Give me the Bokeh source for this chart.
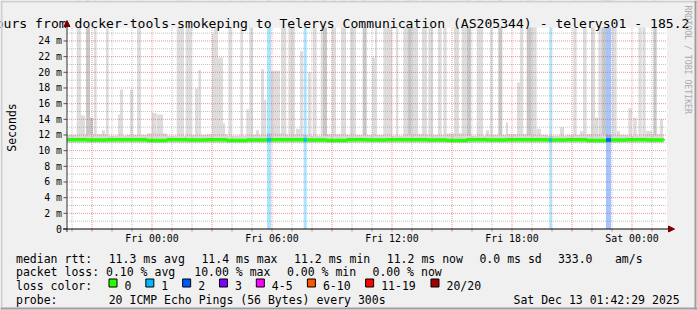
import math
import re
import pandas as pd
from bokeh.plotting import figure
from bokeh.models import Range1d, Arrow, NormalHead
from bokeh.core.properties import value
from bokeh.embed import file_html
from bokeh.resources import INLINE

# ---------------- data ----------------
view_start = "2025-12-11 19:45"
view_end = "2025-12-13 01:45"
y_max_ms = 25.72

# smoke columns (ping spread above the median); 30 = beyond the top of the graph
smoke_start = [
    "2025-12-11 20:14", "2025-12-11 20:27", "2025-12-11 20:42", "2025-12-11 20:54", "2025-12-11 21:06",
    "2025-12-11 21:30", "2025-12-11 21:42", "2025-12-11 22:18", "2025-12-11 22:24", "2025-12-11 22:54",
    "2025-12-11 23:15", "2025-12-11 23:59", "2025-12-12 00:15", "2025-12-12 01:14", "2025-12-12 01:41",
    "2025-12-12 02:09", "2025-12-12 02:19", "2025-12-12 03:00", "2025-12-12 03:06", "2025-12-12 03:18",
    "2025-12-12 03:33", "2025-12-12 03:49", "2025-12-12 04:25", "2025-12-12 04:43", "2025-12-12 04:52",
    "2025-12-12 05:12", "2025-12-12 05:27", "2025-12-12 05:36", "2025-12-12 05:57", "2025-12-12 06:27",
    "2025-12-12 06:49", "2025-12-12 07:12", "2025-12-12 07:24", "2025-12-12 07:48", "2025-12-12 08:03",
    "2025-12-12 08:26", "2025-12-12 08:33", "2025-12-12 08:59", "2025-12-12 09:27", "2025-12-12 09:54",
    "2025-12-12 10:32", "2025-12-12 11:00", "2025-12-12 11:09", "2025-12-12 11:34", "2025-12-12 12:12",
    "2025-12-12 12:34", "2025-12-12 12:48", "2025-12-12 12:59", "2025-12-12 13:30", "2025-12-12 13:49",
    "2025-12-12 14:18", "2025-12-12 14:34", "2025-12-12 15:06", "2025-12-12 15:29", "2025-12-12 15:44",
    "2025-12-12 16:14", "2025-12-12 16:42", "2025-12-12 16:54", "2025-12-12 17:19", "2025-12-12 17:42",
    "2025-12-12 18:15", "2025-12-12 18:24", "2025-12-12 18:44", "2025-12-12 18:57", "2025-12-12 19:14",
    "2025-12-12 20:24", "2025-12-12 21:04", "2025-12-12 21:24", "2025-12-12 21:33", "2025-12-12 21:57",
    "2025-12-12 22:09", "2025-12-12 22:19", "2025-12-12 22:29", "2025-12-12 22:59", "2025-12-12 23:15",
    "2025-12-12 23:49", "2025-12-13 00:04", "2025-12-13 00:19", "2025-12-13 00:31", "2025-12-13 00:42",
    "2025-12-13 01:04", "2025-12-13 01:24",
]
smoke_end = [
    "2025-12-11 20:27", "2025-12-11 20:39", "2025-12-11 20:54", "2025-12-11 21:03", "2025-12-11 21:14",
    "2025-12-11 21:39", "2025-12-11 21:50", "2025-12-11 22:24", "2025-12-11 22:33", "2025-12-11 23:04",
    "2025-12-11 23:27", "2025-12-12 00:14", "2025-12-12 00:33", "2025-12-12 01:36", "2025-12-12 01:59",
    "2025-12-12 02:19", "2025-12-12 02:27", "2025-12-12 03:06", "2025-12-12 03:18", "2025-12-12 03:33",
    "2025-12-12 03:39", "2025-12-12 03:59", "2025-12-12 04:33", "2025-12-12 04:52", "2025-12-12 05:03",
    "2025-12-12 05:21", "2025-12-12 05:36", "2025-12-12 05:43", "2025-12-12 06:24", "2025-12-12 06:43",
    "2025-12-12 07:09", "2025-12-12 07:24", "2025-12-12 07:33", "2025-12-12 07:57", "2025-12-12 08:14",
    "2025-12-12 08:33", "2025-12-12 08:45", "2025-12-12 09:12", "2025-12-12 09:42", "2025-12-12 10:12",
    "2025-12-12 10:44", "2025-12-12 11:09", "2025-12-12 11:15", "2025-12-12 12:00", "2025-12-12 12:19",
    "2025-12-12 12:48", "2025-12-12 12:59", "2025-12-12 13:18", "2025-12-12 13:45", "2025-12-12 14:03",
    "2025-12-12 14:29", "2025-12-12 14:44", "2025-12-12 15:21", "2025-12-12 15:44", "2025-12-12 15:57",
    "2025-12-12 16:33", "2025-12-12 16:51", "2025-12-12 17:02", "2025-12-12 17:31", "2025-12-12 17:48",
    "2025-12-12 18:24", "2025-12-12 18:34", "2025-12-12 18:57", "2025-12-12 19:14", "2025-12-12 19:27",
    "2025-12-12 20:36", "2025-12-12 21:14", "2025-12-12 21:33", "2025-12-12 21:44", "2025-12-12 22:09",
    "2025-12-12 22:18", "2025-12-12 22:29", "2025-12-12 22:42", "2025-12-12 23:14", "2025-12-12 23:24",
    "2025-12-12 23:59", "2025-12-13 00:14", "2025-12-13 00:29", "2025-12-13 00:41", "2025-12-13 01:00",
    "2025-12-13 01:14", "2025-12-13 01:33",
]
smoke_top_ms = [
    30, 14.5, 30, 14.2, 30, 12.6, 30, 14.6, 17.8, 17.8,
    30, 14.8, 14.6, 30, 30, 17.9, 20.3, 24.9, 30, 21.9,
    13.5, 30, 30, 15.3, 30, 12.6, 20.4, 16.5, 20.2, 30,
    30, 12.8, 22.7, 20.0, 30, 30, 30, 30, 30, 30,
    30, 21.9, 30, 30, 30, 30, 30, 30, 30, 30,
    30, 30, 30, 30, 30, 30, 12.6, 30, 30, 13.6,
    18.7, 30, 30, 30, 12.8, 13.0, 30, 12.5, 30, 30,
    14.2, 30, 30, 30, 12.5, 15.4, 14.2, 30, 30, 12.5,
    30, 14.0,
]
smoke_shade = [
    "L", "L", "D", "D", "L", "L", "L", "L", "L", "L",
    "L", "L", "L", "L", "L", "L", "L", "L", "L", "L",
    "L", "L", "L", "L", "L", "L", "L", "L", "L", "L",
    "L", "L", "L", "L", "L", "L", "D", "L", "L", "L",
    "D", "L", "L", "L", "L", "L", "D", "L", "L", "L",
    "L", "L", "L", "L", "D", "L", "L", "L", "D", "L",
    "L", "L", "D", "L", "L", "L", "L", "L", "L", "L",
    "L", "L", "D", "L", "L", "L", "L", "L", "L", "L",
    "D", "L",
]
smoke_floor_ms = 11.0

# thin smoke fringe just above the median
fringe_time = [
    "2025-12-11 19:45", "2025-12-11 20:45", "2025-12-11 21:45", "2025-12-11 22:45", "2025-12-11 23:45",
    "2025-12-12 00:45", "2025-12-12 01:45", "2025-12-12 02:45", "2025-12-12 03:45", "2025-12-12 04:45",
    "2025-12-12 05:45", "2025-12-12 06:45", "2025-12-12 07:45", "2025-12-12 08:45", "2025-12-12 09:45",
    "2025-12-12 10:45", "2025-12-12 11:45", "2025-12-12 12:45", "2025-12-12 13:45", "2025-12-12 14:45",
    "2025-12-12 15:45", "2025-12-12 16:45", "2025-12-12 17:45", "2025-12-12 18:45", "2025-12-12 19:45",
    "2025-12-12 20:45", "2025-12-12 21:45", "2025-12-12 22:45", "2025-12-12 23:45", "2025-12-13 00:45",
    "2025-12-13 01:35",
]
fringe_top_ms = [
    12.0, 12.1, 11.9, 12.0, 12.2, 11.9, 12.0, 12.1, 11.9, 12.0,
    12.2, 12.0, 11.9, 12.1, 12.0, 12.0, 11.9, 12.1, 12.0, 12.2,
    11.9, 12.0, 12.1, 12.0, 11.9, 12.0, 12.1, 12.0, 11.9, 12.1,
    12.0,
]

# median rtt
median_time = fringe_time
median_ms = [
    11.40, 11.35, 11.40, 11.40, 11.30, 11.40, 11.35, 11.40, 11.30, 11.35,
    11.40, 11.40, 11.35, 11.30, 11.40, 11.35, 11.40, 11.40, 11.35, 11.30,
    11.40, 11.35, 11.40, 11.40, 11.35, 11.40, 11.30, 11.35, 11.40, 11.35,
    11.30,
]

# packet loss periods
loss_start = ["2025-12-12 05:45", "2025-12-12 07:35", "2025-12-12 19:52", "2025-12-12 22:42"]
loss_end = ["2025-12-12 05:57", "2025-12-12 07:44", "2025-12-12 19:59", "2025-12-12 22:57"]
loss_pings = [1, 1, 1, 2]
loss_median_ms = [11.35, 11.35, 11.35, 11.35]

loss_labels = ["0", "1", "2", "3", "4-5", "6-10", "11-19", "20/20"]
loss_colors = ["#26ff00", "#00b8ff", "#0059ff", "#7e00ff", "#ff00ff", "#ff5500", "#ff0000", "#a10000"]

x_label_ticks = ["2025-12-12 00:00", "2025-12-12 06:00", "2025-12-12 12:00",
                 "2025-12-12 18:00", "2025-12-13 00:00"]
y_ticks = [0, 2, 4, 6, 8, 10, 12, 14, 16, 18, 20, 22, 24]
y_tick_labels = ["0", "2 m", "4 m", "6 m", "8 m", "10 m", "12 m", "14 m",
                 "16 m", "18 m", "20 m", "22 m", "24 m"]

title_text = "ours from docker-tools-smokeping to Telerys Communication (AS205344) - telerys01 - 185.2"
legend_lines = [
    "median rtt:  11.3 ms avg  11.4 ms max  11.2 ms min  11.2 ms now  0.0 ms sd  333.0   am/s",
    "packet loss: 0.10 % avg  10.00 % max  0.00 % min  0.00 % now",
    "loss color:",
    "probe:       20 ICMP Echo Pings (56 Bytes) every 300s",
]
stamp_text = "Sat Dec 13 01:42:29 2025"


def ms(s):
    return pd.Timestamp(s).value / 1e6


def msl(lst):
    return [ms(s) for s in lst]


# ---------------- layout (canvas pixels) ----------------
W, H = 697, 310
PLOT_X0 = 66.5          # pixel of view_start
PLOT_Y0 = 228.5         # pixel of 0 ms
PLOT_TOP = 27
PX_PER_MS = (PLOT_Y0 - PLOT_TOP) / y_max_ms
MS_PER_PX = 180000.0    # 30 h over 600 px
MONO = "DejaVu Sans Mono"
BG = "#F0F0F0"

t0 = ms(view_start)
t1 = ms(view_end)
p = figure(width=W, height=H, x_range=Range1d(0, W), y_range=Range1d(H, 0),
           x_axis_location=None, y_axis_location=None,
           min_border=0, min_border_left=0, min_border_right=0,
           min_border_top=0, min_border_bottom=0,
           output_backend="svg", toolbar_location=None,
           background_fill_color=BG, border_fill_color=BG, outline_line_color=None)
for g in p.grid:
    g.visible = False

p.extra_x_ranges = {"time": Range1d(t0 - PLOT_X0 * MS_PER_PX, t0 + (W - PLOT_X0) * MS_PER_PX)}
p.extra_y_ranges = {"ms": Range1d(-(H - PLOT_Y0) / PX_PER_MS, PLOT_Y0 / PX_PER_MS)}
D = dict(x_range_name="time", y_range_name="ms")

# plot canvas
p.quad(left=[t0], right=[t1], bottom=[0], top=[y_max_ms],
       fill_color="white", line_color=None, **D)

shade_color = {"L": "#dddddd", "D": "#c8c8c8"}
p.quad(left=msl(smoke_start), right=msl(smoke_end), bottom=smoke_floor_ms, top=smoke_top_ms,
       fill_color=[shade_color[s] for s in smoke_shade], line_color=None, **D)
p.varea_step(x=msl(fringe_time), y1=smoke_floor_ms, y2=fringe_top_ms,
             step_mode="after", fill_color="#d8d8d8", **D)
p.quad(left=msl(loss_start), right=msl(loss_end), bottom=0, top=30,
       fill_color=[loss_colors[n] for n in loss_pings], fill_alpha=0.35, line_color=None, **D)
p.step(x=msl(median_time), y=median_ms, mode="after",
       line_color=loss_colors[0], line_width=3.5, **D)
p.segment(x0=msl(loss_start), x1=msl(loss_end), y0=loss_median_ms, y1=loss_median_ms,
          line_color=[loss_colors[n] for n in loss_pings], line_width=3.5, **D)

# grid lines (drawn on top, rrdtool style)
x_major = msl(pd.date_range("2025-12-11 21:00", "2025-12-13 00:00", freq="3h"))
x_minor = [ms(t) for t in pd.date_range("2025-12-11 20:00", "2025-12-13 01:00", freq="1h")
           if t.hour % 3 != 0]
y_minor = [v for v in range(1, 26) if v % 2 == 1]
y_major = y_ticks[1:]

p.segment(x0=x_minor, x1=x_minor, y0=0, y1=y_max_ms, line_color="#8F8F8F",
          line_alpha=0.55, line_dash="1 1", line_width=1, **D)
p.segment(x0=t0, x1=t1, y0=y_minor, y1=y_minor, line_color="#8F8F8F",
          line_alpha=0.55, line_dash="1 1", line_width=1, **D)
p.segment(x0=x_major, x1=x_major, y0=0, y1=y_max_ms, line_color="#DE5050",
          line_alpha=0.6, line_dash="1 1", line_width=1, **D)
p.segment(x0=t0, x1=t1, y0=y_major, y1=y_major, line_color="#DE5050",
          line_alpha=0.6, line_dash="1 1", line_width=1, **D)

# mask smoke that reaches above the graph
p.quad(left=[0], right=[W], top=[0], bottom=[PLOT_TOP], fill_color=BG, line_color=None)

# axes
p.segment(x0=x_minor + x_major, x1=x_minor + x_major, y0=PLOT_Y0, y1=PLOT_Y0 + 2.5,
          line_color="#DE5050", line_alpha=0.7, x_range_name="time")
p.segment(x0=PLOT_X0 - 3.5, x1=PLOT_X0, y0=y_ticks, y1=y_ticks,
          line_color="#555555", y_range_name="ms")
p.add_layout(Arrow(end=NormalHead(size=6, fill_color="#7f0000", line_color="#7f0000", line_width=1),
                   x_start=PLOT_X0, y_start=PLOT_Y0 + 3, x_end=PLOT_X0, y_end=20,
                   line_color="#333333", line_width=1))
p.add_layout(Arrow(end=NormalHead(size=6, fill_color="#7f0000", line_color="#7f0000", line_width=1),
                   x_start=PLOT_X0 - 4, y_start=PLOT_Y0, x_end=674, y_end=PLOT_Y0,
                   line_color="black", line_width=1))

p.text(x=msl(x_label_ticks), y=237.5,
       text=[pd.Timestamp(s).strftime("%a %H:%M") for s in x_label_ticks],
       text_font=value(MONO), text_font_size=value("9.9px"), text_color="black",
       text_align="center", text_baseline="middle", x_range_name="time")
p.text(x=61.5, y=y_ticks, text=y_tick_labels,
       text_font=value(MONO), text_font_size=value("9.9px"), text_color="black",
       text_align="right", text_baseline="middle", y_range_name="ms")


def lab(text, x, y, size, align="left", baseline="alphabetic", angle=0.0, color="black"):
    p.text(x=[x], y=[y], text=[text], text_font=value(MONO), text_font_size=value(size),
           text_align=align, text_baseline=baseline, angle=angle, text_color=color)


LEG_SIZE = "11.5px"
CW = 7.13
LEG_X = 15.5


def place_line(line, x0, y):
    # monospace line: every run of text separated by 2+ spaces keeps its column
    for m in re.finditer(r"\S+(?: \S+)*", line):
        lab(m.group(), x0 + m.start() * CW, y, LEG_SIZE)


lab(title_text, -4.8, 23.3, "13.1px")
lab("Seconds", 11, 127, "11.5px", align="center", baseline="middle", angle=math.pi / 2)
lab("RRDTOOL / TOBI OETIKER", 687, 5, "8.2px", baseline="middle", angle=-math.pi / 2, color="#aaaaaa")

baselines = [258, 271.7, 285.4, 299]
for line, b in zip(legend_lines, baselines):
    place_line(line, LEG_X, b)
lab(stamp_text, 513, baselines[3], LEG_SIZE)

bx = 108.5
box_l, box_r, box_lab_x = [], [], []
for t in loss_labels:
    box_l.append(bx)
    box_r.append(bx + 8)
    box_lab_x.append(bx + 15.5)
    bx += 29.7 + CW * len(t)
p.quad(left=box_l, right=box_r, top=278.5, bottom=286.5, fill_color=loss_colors,
       line_color="black", line_width=1)
p.text(x=box_lab_x, y=baselines[2], text=loss_labels, text_font=value(MONO),
       text_font_size=value(LEG_SIZE), text_color="black", text_baseline="alphabetic")

# 3d frame of the canvas
p.quad(left=[0, 0], right=[W, 2], top=[0, 0], bottom=[2, H], fill_color="#CFCFCF", line_color=None)
p.quad(left=[0, W - 3], right=[W, W - 1], top=[H - 3, 0], bottom=[H - 1, H - 1],
       fill_color="#9E9E9E", line_color=None)

open("out.html", "w").write(file_html(p, INLINE))
